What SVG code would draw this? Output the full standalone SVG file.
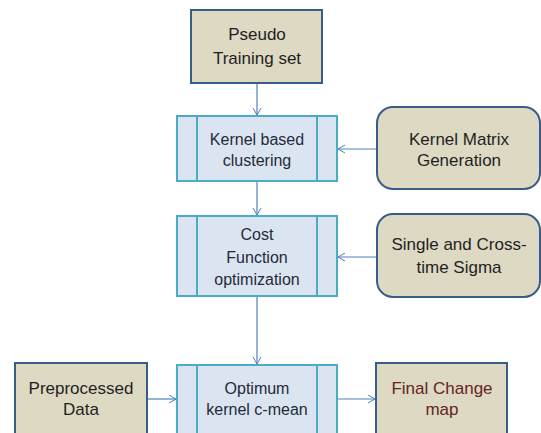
<svg xmlns="http://www.w3.org/2000/svg" width="541" height="433" viewBox="0 0 541 433">
<defs>
<marker id="arr" markerWidth="10" markerHeight="10" refX="8" refY="5" orient="auto" markerUnits="userSpaceOnUse">
<path d="M1,1 L8,5 L1,9" fill="none" stroke="#4f81bd" stroke-width="1"/>
</marker>
<style>
.beige{fill:#ddd9c3;stroke:#385d8a;stroke-width:2}
.proc{fill:#dbe5f1;stroke:#4bacc6;stroke-width:2}
.div{stroke:#4bacc6;stroke-width:2}
.t{font-family:"Liberation Sans",Arial,sans-serif;font-size:17px;fill:#1f1f1f;text-anchor:middle}
.tb{font-family:"Liberation Sans",Arial,sans-serif;font-size:16px;fill:#1f2a3a;text-anchor:middle}
.red{fill:#632523}
.c{stroke:#4f81bd;stroke-width:1.2;fill:none;marker-end:url(#arr)}
</style>
</defs>
<rect width="541" height="433" fill="#ffffff"/>
<g id="connectors">
<line class="c" x1="257" y1="84" x2="257" y2="115"/>
<line class="c" x1="257" y1="182" x2="257" y2="215"/>
<line class="c" x1="257" y1="297" x2="257" y2="364"/>
<line class="c" x1="376" y1="149" x2="338" y2="149"/>
<line class="c" x1="376" y1="257" x2="338" y2="257"/>
<line class="c" x1="148" y1="399" x2="176" y2="399"/>
<line class="c" x1="338" y1="399" x2="375" y2="399"/>
</g>
<g id="pseudo">
<rect class="beige" x="191" y="10" width="131" height="73"/>
<text class="t" x="257" y="40">Pseudo</text>
<text class="t" x="257" y="64">Training set</text>
</g>
<g id="kernel-clustering">
<rect class="proc" x="177" y="116" width="160" height="65"/>
<line class="div" x1="197" y1="116" x2="197" y2="181"/>
<line class="div" x1="317" y1="116" x2="317" y2="181"/>
<text class="tb" x="257" y="145">Kernel based</text>
<text class="tb" x="257" y="166">clustering</text>
</g>
<g id="kernel-matrix">
<rect class="beige" x="377" y="107" width="163" height="82" rx="16"/>
<text class="t" x="459" y="145">Kernel Matrix</text>
<text class="t" x="459" y="166">Generation</text>
</g>
<g id="cost">
<rect class="proc" x="177" y="216" width="160" height="80"/>
<line class="div" x1="197" y1="216" x2="197" y2="296"/>
<line class="div" x1="317" y1="216" x2="317" y2="296"/>
<text class="tb" x="257" y="240">Cost</text>
<text class="tb" x="257" y="263">Function</text>
<text class="tb" x="257" y="285">optimization</text>
</g>
<g id="sigma">
<rect class="beige" x="377" y="214" width="163" height="83" rx="16"/>
<text class="t" x="459" y="250">Single and Cross-</text>
<text class="t" x="459" y="273">time Sigma</text>
</g>
<g id="preprocessed">
<rect class="beige" x="15" y="363" width="132" height="80"/>
<text class="t" x="81" y="394">Preprocessed</text>
<text class="t" x="81" y="415">Data</text>
</g>
<g id="optimum">
<rect class="proc" x="177" y="365" width="160" height="80"/>
<line class="div" x1="197" y1="365" x2="197" y2="445"/>
<line class="div" x1="317" y1="365" x2="317" y2="445"/>
<text class="tb" x="257" y="394">Optimum</text>
<text class="tb" x="257" y="415">kernel c-mean</text>
</g>
<g id="final">
<rect class="beige" x="376" y="363" width="131" height="80"/>
<text class="t red" x="442" y="394">Final Change</text>
<text class="t red" x="442" y="415">map</text>
</g>
</svg>
